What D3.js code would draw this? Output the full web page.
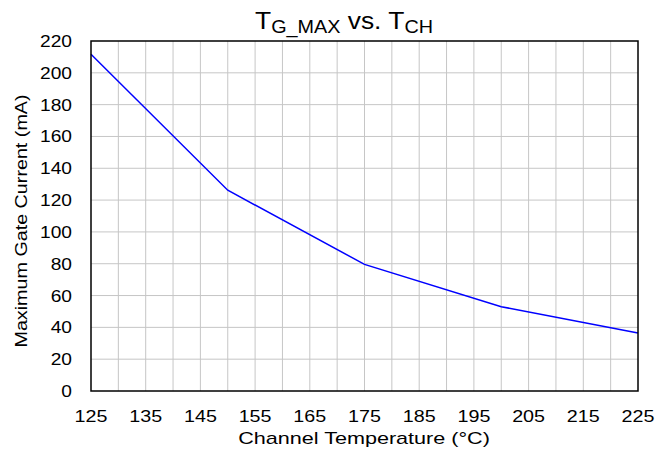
<!DOCTYPE html>
<html>
<head>
<meta charset="utf-8">
<script src="https://cdn.jsdelivr.net/npm/d3@7"></script>
<style>
  body { margin: 0; background: #fff; }
  text { font-family: "Liberation Sans", Arial, sans-serif; fill: #000; }
</style>
</head>
<body>
<div id="chart"></div>
<script>
// channel temperature (°C) and max gate current (mA)
const tempC = [125, 150, 175, 200, 225];
const gateMA = [211.7, 126.2, 79.6, 53, 36.5];
const xTicks = [125, 135, 145, 155, 165, 175, 185, 195, 205, 215, 225];
const yTicks = [0, 20, 40, 60, 80, 100, 120, 140, 160, 180, 200, 220];

const width = 669, height = 454;
const margin = {left: 91, right: 31, top: 41, bottom: 63};

const svg = d3.select('#chart').append('svg')
    .attr('width', width)
    .attr('height', height);

const x = d3.scaleLinear().domain([125, 225]).range([margin.left, width - margin.right]);
const y = d3.scaleLinear().domain([0, 220]).range([height - margin.bottom, margin.top]);

// text in the original is drawn a bit wide, so stretch it along the reading direction
function placeWide(sel, px, py, sx, rot) {
    sel.attr('transform', (d, i) => {
        const tx = typeof px === 'function' ? px(d, i) : px;
        const ty = typeof py === 'function' ? py(d, i) : py;
        return `translate(${tx},${ty})` + (rot ? ` rotate(${rot})` : '') + ` scale(${sx},1)`;
    });
}

// grid: vertical every 5, horizontal every 20
const gridG = svg.append('g');
gridG.selectAll('line.v')
    .data(d3.range(130, 225, 5))
    .enter().append('line')
    .attr('x1', d => x(d)).attr('x2', d => x(d))
    .attr('y1', y(0)).attr('y2', y(220))
    .attr('stroke', '#c6c6c6').attr('stroke-width', 1);
gridG.selectAll('line.h')
    .data(yTicks.slice(1, -1))
    .enter().append('line')
    .attr('y1', d => y(d)).attr('y2', d => y(d))
    .attr('x1', x(125)).attr('x2', x(225))
    .attr('stroke', '#c6c6c6').attr('stroke-width', 1);

// the curve
const line = d3.line()
    .x((d, i) => x(tempC[i]))
    .y(d => y(d));
svg.append('path')
    .datum(gateMA)
    .attr('d', line)
    .attr('fill', 'none')
    .attr('stroke', '#0000ff')
    .attr('stroke-width', 1.5);

// frame
svg.append('rect')
    .attr('x', x(125)).attr('y', y(220))
    .attr('width', x(225) - x(125))
    .attr('height', y(0) - y(220))
    .attr('fill', 'none')
    .attr('stroke', '#000')
    .attr('stroke-width', 1.5);

// tick labels
const yLab = svg.append('g').selectAll('text')
    .data(yTicks)
    .enter().append('text')
    .attr('dy', '0.35em')
    .attr('text-anchor', 'end')
    .attr('font-size', 17)
    .text(d => d);
placeWide(yLab, 72, d => y(d), 1.13);

const xLab = svg.append('g').selectAll('text')
    .data(xTicks)
    .enter().append('text')
    .attr('text-anchor', 'middle')
    .attr('font-size', 17)
    .text(d => d);
placeWide(xLab, d => x(d), 422, 1.16);

// axis titles
const xTitle = svg.append('text')
    .attr('text-anchor', 'middle')
    .attr('font-size', 17)
    .text('Channel Temperature (°C)');
placeWide(xTitle, 364, 444, 1.27);

const yTitle = svg.append('text')
    .attr('text-anchor', 'middle')
    .attr('font-size', 17)
    .text('Maximum Gate Current (mA)');
placeWide(yTitle, 27, 221, 1.16, -90);

// title with subscripts
const title = svg.append('text')
    .attr('text-anchor', 'middle')
    .attr('font-size', 24);
title.append('tspan').text('T');
title.append('tspan').attr('font-size', 18).attr('dy', 4).text('G_MAX');
title.append('tspan').attr('dy', -4).text(' vs. T');
title.append('tspan').attr('font-size', 18).attr('dy', 4).text('CH');
placeWide(title, 344, 29, 1.1);
</script>
</body>
</html>
